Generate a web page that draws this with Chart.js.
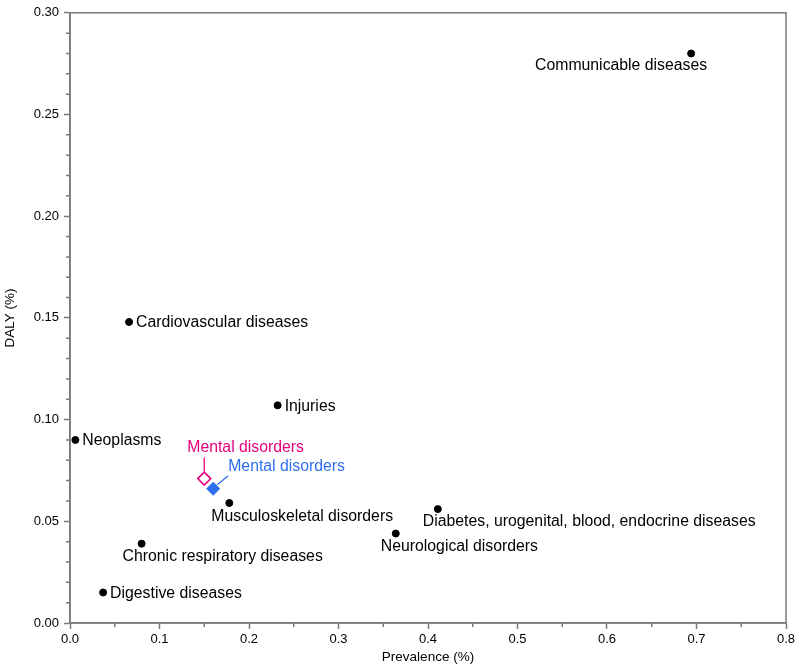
<!DOCTYPE html>
<html>
<head>
<meta charset="utf-8">
<script src="https://cdn.jsdelivr.net/npm/chart.js@4"></script>
<style>
  html, body { margin: 0; padding: 0; background: #fff; }
  #wrap { width: 800px; height: 668px; position: relative; }
</style>
</head>
<body>
<div id="wrap"><canvas id="c" width="800" height="668"></canvas></div>
<script>
// disease groups: prevalence (%) vs DALY (%)
const diseaseNames = ['Communicable diseases', 'Cardiovascular diseases', 'Injuries', 'Neoplasms',
  'Musculoskeletal disorders', 'Diabetes, urogenital, blood, endocrine diseases',
  'Neurological disorders', 'Chronic respiratory diseases', 'Digestive diseases'];
const diseasePrevalence = [0.694, 0.066, 0.232, 0.006, 0.178, 0.411, 0.364, 0.080, 0.037];
const diseaseDaly       = [0.280, 0.148, 0.107, 0.090, 0.059, 0.056, 0.044, 0.039, 0.015];

const mentalLabel = 'Mental disorders';
const mentalOpen = { x: 0.150, y: 0.071 };
const mentalFilled = { x: 0.160, y: 0.066 };

const xTicks = [0, 0.1, 0.2, 0.3, 0.4, 0.5, 0.6, 0.7, 0.8];
const yTicks = [0, 0.05, 0.10, 0.15, 0.20, 0.25, 0.30];

const PINK = '#e6007e', BLUE = '#2f6fef', AXIS = '#7a7a7a';
const FONT = '"Liberation Sans", Arial, Helvetica, sans-serif';

// where each label sits relative to its dot
const placement = {
  'Communicable diseases': { dx: 16, dy: 12.5, align: 'right' },
  'Cardiovascular diseases': { dx: 7, dy: 1, align: 'left' },
  'Injuries': { dx: 7, dy: 1, align: 'left' },
  'Neoplasms': { dx: 7, dy: 1, align: 'left' },
  'Musculoskeletal disorders': { dx: -18, dy: 14, align: 'left' },
  'Diabetes, urogenital, blood, endocrine diseases': { dx: -15, dy: 12.5, align: 'left' },
  'Neurological disorders': { dx: -15, dy: 13, align: 'left' },
  'Chronic respiratory diseases': { dx: -19, dy: 12.5, align: 'left' },
  'Digestive diseases': { dx: 7, dy: 1, align: 'left' }
};

const annotate = {
  id: 'annotate',
  afterDraw(chart) {
    const ctx = chart.ctx, a = chart.chartArea;
    const xs = chart.scales.x, ys = chart.scales.y;
    ctx.save();
    // box
    ctx.strokeStyle = AXIS; ctx.lineWidth = 1.5;
    ctx.strokeRect(a.left, a.top, a.right - a.left, a.bottom - a.top);
    // minor ticks
    ctx.beginPath();
    for (let v = 0.05; v < 0.8; v += 0.1) {
      const px = xs.getPixelForValue(v);
      ctx.moveTo(px, a.bottom); ctx.lineTo(px, a.bottom + 4);
    }
    for (let i = 0; i < 30; i++) {
      if (i % 5 === 0) continue;
      const py = ys.getPixelForValue(i * 0.01);
      ctx.moveTo(a.left, py); ctx.lineTo(a.left - 4, py);
    }
    ctx.stroke();

    // point labels
    ctx.font = '15.8px ' + FONT;
    ctx.textBaseline = 'middle';
    ctx.fillStyle = '#000';
    diseaseNames.forEach((name, i) => {
      const p = placement[name];
      const px = xs.getPixelForValue(diseasePrevalence[i]);
      const py = ys.getPixelForValue(diseaseDaly[i]);
      ctx.textAlign = p.align;
      ctx.fillText(name, px + p.dx, py + p.dy);
    });

    // mental disorders callouts
    const ox = xs.getPixelForValue(mentalOpen.x), oy = ys.getPixelForValue(mentalOpen.y);
    const fx = xs.getPixelForValue(mentalFilled.x), fy = ys.getPixelForValue(mentalFilled.y);
    ctx.lineWidth = 1.3;
    ctx.strokeStyle = PINK; ctx.fillStyle = PINK;
    ctx.beginPath(); ctx.moveTo(ox, oy - 7); ctx.lineTo(ox, oy - 21); ctx.stroke();
    ctx.textAlign = 'left';
    ctx.fillText(mentalLabel, ox - 17, oy - 31);
    ctx.strokeStyle = BLUE; ctx.fillStyle = BLUE;
    ctx.beginPath(); ctx.moveTo(fx + 4, fy - 4); ctx.lineTo(fx + 15, fy - 13); ctx.stroke();
    ctx.fillText(mentalLabel, fx + 15, fy - 22);
    ctx.restore();
  }
};

new Chart(document.getElementById('c'), {
  type: 'scatter',
  data: {
    datasets: [
      {
        data: diseasePrevalence.map((x, i) => ({ x, y: diseaseDaly[i] })),
        backgroundColor: '#000', borderColor: '#000', pointRadius: 3.5, pointHoverRadius: 3.5
      },
      {
        data: [mentalOpen], pointStyle: 'rectRot', pointRadius: 6.5,
        backgroundColor: '#fff', borderColor: PINK, borderWidth: 1.6
      },
      {
        data: [mentalFilled], pointStyle: 'rectRot', pointRadius: 6.5,
        backgroundColor: BLUE, borderColor: BLUE, borderWidth: 1
      }
    ]
  },
  options: {
    responsive: false,
    animation: false,
    events: [],
    layout: { padding: { top: 9, right: 14, left: 0, bottom: 0 } },
    plugins: { legend: { display: false }, tooltip: { enabled: false } },
    scales: {
      x: {
        type: 'linear', min: 0, max: 0.8,
        afterBuildTicks: s => { s.ticks = xTicks.map(v => ({ value: v })); },
        afterFit: s => { s.height = 45; },
        border: { color: AXIS, width: 1.5 },
        grid: { drawOnChartArea: false, tickLength: 6, tickColor: AXIS, tickWidth: 1.5 },
        ticks: { color: '#000', padding: 3, font: { family: FONT, size: 13 },
                 maxRotation: 0, callback: v => v.toFixed(1) },
        title: { display: true, text: 'Prevalence (%)', color: '#000',
                 font: { family: FONT, size: 13.5 }, padding: { top: 0, bottom: 3 } }
      },
      y: {
        type: 'linear', min: 0, max: 0.3,
        afterBuildTicks: s => { s.ticks = yTicks.map(v => ({ value: v })); },
        afterFit: s => { s.width = 70; },
        border: { color: AXIS, width: 1.5 },
        grid: { drawOnChartArea: false, tickLength: 6, tickColor: AXIS, tickWidth: 1.5 },
        ticks: { color: '#000', padding: 5, font: { family: FONT, size: 13 },
                 callback: v => v.toFixed(2) },
        title: { display: true, text: 'DALY (%)', color: '#000',
                 font: { family: FONT, size: 13.5 }, padding: { top: 2, bottom: 0 } }
      }
    }
  },
  plugins: [annotate]
});
</script>
</body>
</html>
